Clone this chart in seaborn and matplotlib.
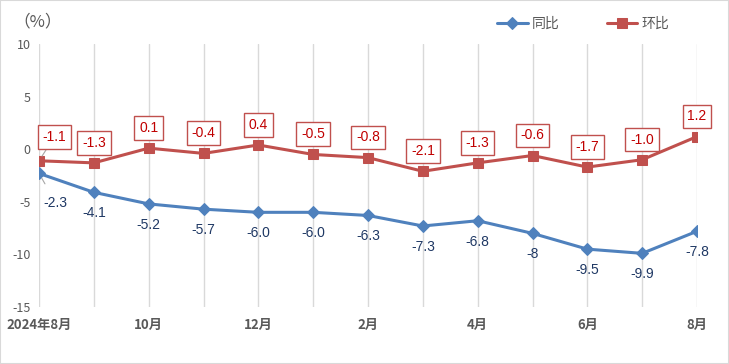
import pandas as pd
import seaborn as sns
import matplotlib.pyplot as plt
from matplotlib.patches import Rectangle

months = ['2024年8月', '9月', '10月', '11月', '12月', '1月', '2月', '3月',
          '4月', '5月', '6月', '7月', '8月']
yoy = [-2.3, -4.1, -5.2, -5.7, -6.0, -6.0, -6.3, -7.3, -6.8, -8, -9.5, -9.9, -7.8]
yoy_labels = ['-2.3', '-4.1', '-5.2', '-5.7', '-6.0', '-6.0', '-6.3', '-7.3',
              '-6.8', '-8', '-9.5', '-9.9', '-7.8']
mom = [-1.1, -1.3, 0.1, -0.4, 0.4, -0.5, -0.8, -2.1, -1.3, -0.6, -1.7, -1.0, 1.2]
mom_labels = ['-1.1', '-1.3', '0.1', '-0.4', '0.4', '-0.5', '-0.8', '-2.1',
              '-1.3', '-0.6', '-1.7', '-1.0', '1.2']
yticks = [10, 5, 0, -5, -10, -15]

blue = '#4F81BD'
red = '#C0504D'
grey = '#595959'

sns.set_style('white')
plt.rcParams['font.family'] = ['Noto Sans CJK SC', 'DejaVu Sans']

df = pd.DataFrame({'idx': range(len(months)), 'yoy': yoy, 'mom': mom})

fig = plt.figure(figsize=(7.29, 3.64), dpi=100)
ax = fig.add_axes([39 / 729, 1 - 307 / 364, (697 - 39) / 729, (307 - 44) / 364])

sns.lineplot(data=df, x='idx', y='yoy', ax=ax, color=blue, linewidth=2.2,
             marker='D', markersize=6, markeredgecolor=blue, label='同比')
sns.lineplot(data=df, x='idx', y='mom', ax=ax, color=red, linewidth=2.2,
             marker='s', markersize=7, markeredgecolor=red, label='环比')

ax.set_xlim(0, len(months) - 1)
ax.set_ylim(-15, 10)
ax.set_xticks(range(len(months)))
ax.set_xticklabels([m if i % 2 == 0 else '' for i, m in enumerate(months)],
                   fontsize=9.5, fontweight='bold', color=grey)
ax.set_yticks(yticks)
ax.set_yticklabels([str(t) for t in yticks], fontsize=9, color=grey)
ax.tick_params(axis='y', length=0, pad=6)
ax.tick_params(axis='x', length=0, pad=8)
ax.grid(axis='x', color='#D9D9D9', linewidth=1)
ax.grid(axis='y', visible=False)
for s in ax.spines.values():
    s.set_visible(False)
ax.set_xlabel('')
ax.set_ylabel('')

# data labels
for i, (v, t) in enumerate(zip(mom, mom_labels)):
    dx = 11 if i == 0 else 0
    dy = 17 if i == 0 else 14.5
    ax.annotate(t, (i, v), xytext=(dx, dy), textcoords='offset points',
                ha='center', va='center', fontsize=10, color='#C00000',
                family=['Liberation Sans'],
                bbox=dict(boxstyle='square,pad=0.35', fc='white', ec=red, lw=1),
                arrowprops=dict(arrowstyle='-', color='#A6A6A6', lw=0.8,
                                shrinkA=0, shrinkB=4) if i == 0 else None)
for i, (v, t) in enumerate(zip(yoy, yoy_labels)):
    dx = 12 if i == 0 else 0
    dy = -21 if i == 0 else -15
    ax.annotate(t, (i, v), xytext=(dx, dy), textcoords='offset points',
                ha='center', va='center', fontsize=10, color='#1F3864',
                family=['Liberation Sans'],
                arrowprops=dict(arrowstyle='-', color='#A6A6A6', lw=0.8,
                                shrinkA=7, shrinkB=4) if i == 0 else None)

ax.legend_.remove()
handles, labels = ax.get_legend_handles_labels()
fig.legend(handles, labels, loc='center left',
           bbox_to_anchor=(497 / 729, 1 - 24 / 364), ncol=2, frameon=False,
           fontsize=10, handlelength=2.2, handletextpad=0.3, columnspacing=3.4,
           labelcolor=grey, borderpad=0, borderaxespad=0)

fig.text(38 / 729, 1 - 22 / 364, '（%）', ha='center', va='center',
         fontsize=12, color=grey)
fig.patches.append(Rectangle((0, 0), 1, 1, transform=fig.transFigure,
                             fill=False, ec='#D9D9D9', lw=1.5))

fig.savefig('out.png', dpi=100)
